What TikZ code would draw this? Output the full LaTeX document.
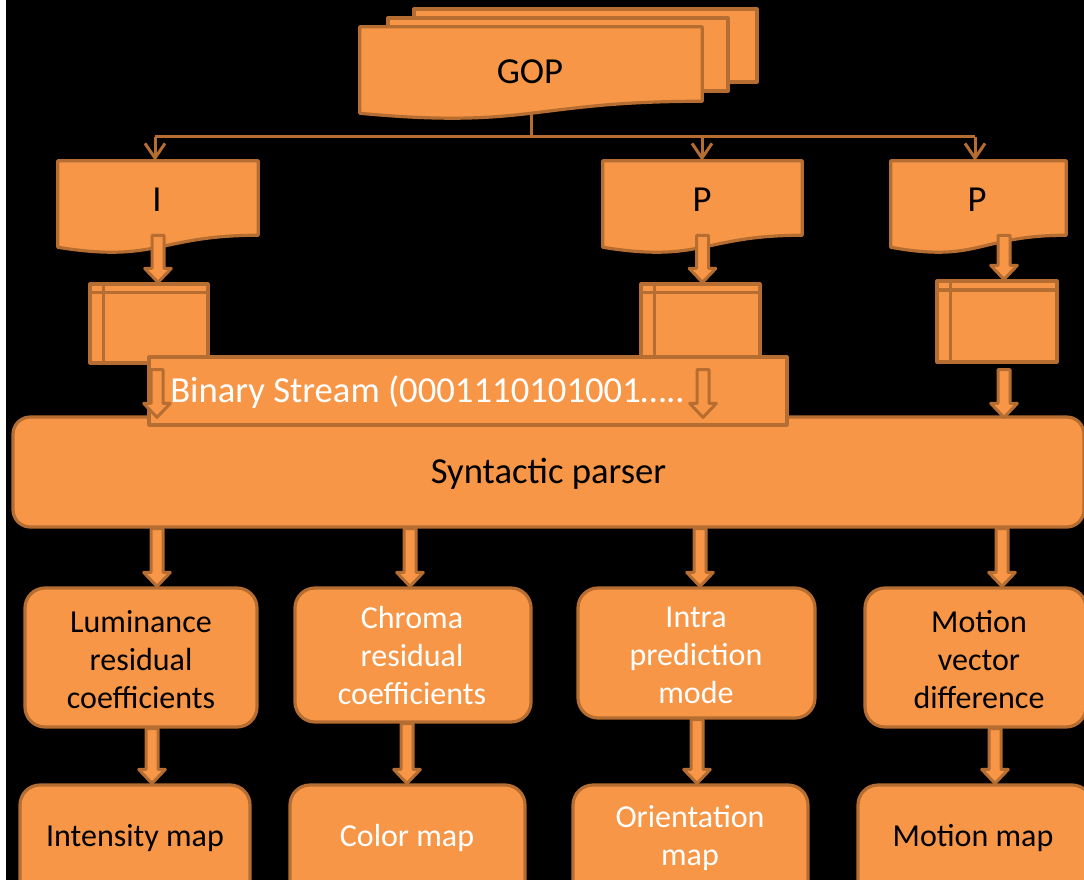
\documentclass[tikz,border=0pt]{standalone}
\usepackage{fontspec}
\setmainfont{Carlito}
\usetikzlibrary{calc,arrows.meta}
\definecolor{boxfill}{HTML}{F79646}
\definecolor{boxline}{HTML}{B66D31}

\tikzset{
  px/.style={x=0.75pt,y=-0.75pt},
  shapeline/.style={draw=boxline, line width=2.4pt, fill=boxfill, line join=round},
  sized/.style 2 args={minimum width=#1*0.75pt, minimum height=#2*0.75pt, inner sep=0pt},
  plainbox/.style={shapeline, rectangle},
  roundbox/.style={shapeline, rectangle, rounded corners=15pt},
  ghost/.style={rectangle, draw=none, inner sep=0pt},
  bigtext/.style={font=\fontsize{27.5}{33}\selectfont, text height=17.7pt, text depth=0pt, inner sep=0pt},
  smalltext/.style={font=\fontsize{24}{28.5}\selectfont, align=center, inner sep=0pt},
  oneline/.style={text height=15.5pt, text depth=0pt},
  thinlink/.style={draw=boxline, line width=2.25pt},
  thinarrow/.style={thinlink, -{Straight Barb[width=15pt,length=11pt]}},
  blockarrow/.style={shapeline, line width=2.25pt},
}

% frame outline: rectangle with a wavy lower edge, drawn around a ghost node
\newcommand\docpath[1]{%
  \draw[shapeline] (#1.north west) -- (#1.north east) -- (#1.south east)
    .. controls (#1.south) and ($(#1.south)+(0,28)$) .. ($(#1.south west)+(0,12)$) -- cycle;}

% inner guide lines of a storage box
\newcommand\storelines[1]{%
  \draw[draw=boxline, line width=2.4pt]
    ($(#1.north west)!0.125!(#1.north east)$) -- ($(#1.south west)!0.125!(#1.south east)$)
    ($(#1.north west)!0.125!(#1.south west)$) -- ($(#1.north east)!0.125!(#1.south east)$);}

% wide downward arrow from the x and y of #1 to the y of #2
\newcommand\blockdown[2]{%
  \path[blockarrow] let \p1=(#1), \p2=(#2) in
    (\x1-4.5pt,\y1) -- (\x1+4.5pt,\y1) -- (\x1+4.5pt,\y2+10.5pt) -- (\x1+10pt,\y2+10.5pt)
    -- (\x1,\y2) -- (\x1-10pt,\y2+10.5pt) -- (\x1-4.5pt,\y2+10.5pt) -- cycle;}

\begin{document}
\begin{tikzpicture}[px]
\useasboundingbox (0,0) rectangle (1084,880);
\clip (0,0) rectangle (1084,880);
\fill[white] (0,0) rectangle (1084,880);
\fill[black] (6,0) rectangle (1084,880);

% frame geometry
\node[ghost, sized={342}{74}] (gop) at (531,64) {};
\node[ghost, sized={200}{74}] (idoc) at (158,198) {};
\node[ghost, sized={199}{74}] (pdocA) at (702.5,198) {};
\node[ghost, sized={175}{74}] (pdocB) at (978.5,198) {};

% distribution lines from the GOP
\coordinate (bus) at (531,137);
\coordinate (busL) at (155,137);
\coordinate (busM) at (702,137);
\coordinate (busR) at (975,137);
\draw[thinlink] (gop.south) -- (bus);
\draw[thinlink] (busL) -- (busR);
\draw[thinarrow] (busL) -- (busL |- idoc.north);
\draw[thinarrow] (busM) -- (busM |- pdocA.north);
\draw[thinarrow] (busR) -- (busR |- pdocB.north);

% GOP stack
\node[plainbox, sized={343}{73}] (gopback) at (585.5,45.5) {};
\node[plainbox, sized={340}{73}] (gopmid) at (558,54.5) {};
\docpath{gop}
\node[bigtext] (goplabel) at (530,71.5) {GOP};

% frames
\docpath{idoc}
\docpath{pdocA}
\docpath{pdocB}
\node[bigtext] (ilabel) at (157,199.5) {I};
\node[bigtext] (plabelA) at (702,200) {P};
\node[bigtext] (plabelB) at (977,199.5) {P};

% storage boxes
\node[plainbox, sized={118}{79}] (ist) at (149,323.5) {};
\node[plainbox, sized={119}{79}] (pstA) at (700.5,323.5) {};
\node[plainbox, sized={120}{81}] (pstB) at (997,321.5) {};
\storelines{ist}
\storelines{pstA}
\storelines{pstB}

% parser and bit stream
\node[roundbox, rounded corners=13pt, sized={1071}{110}, bigtext] (parser) at (548.5,472) {Syntactic parser};
\node[plainbox, sized={638}{68}] (binary) at (468,391) {};
\node[bigtext, text=white, anchor=west] (bintext) at (170,391) {Binary Stream (0001110101001…..};

% syntax elements
\node[roundbox, sized={232}{139}] (lum) at (141,657.5) {};
\node[roundbox, sized={236}{134}] (chroma) at (413,655) {};
\node[roundbox, sized={237}{130}] (intra) at (696.5,653) {};
\node[roundbox, sized={221}{139}] (mvd) at (975.5,657.5) {};
\node[smalltext] (lumtext) at (141,659.5) {Luminance\\residual\\coefficients};
\node[smalltext, text=white] (chromatext) at (412,655.5) {Chroma\\residual\\coefficients};
\node[smalltext, text=white] (intratext) at (696,655) {Intra\\prediction\\mode};
\node[smalltext] (mvdtext) at (979,659.5) {Motion\\vector\\difference};

% feature maps
\node[roundbox, sized={230}{120}] (intensity) at (135,845) {};
\node[roundbox, sized={235}{120}] (colormap) at (407.5,845) {};
\node[roundbox, sized={235}{120}] (orient) at (690.5,845) {};
\node[roundbox, sized={234}{120}] (motionmap) at (975,845) {};
\node[smalltext, oneline] (intensitytext) at (135,836) {Intensity map};
\node[smalltext, oneline, text=white] (colortext) at (407,836) {Color map};
\node[smalltext, text=white] (orienttext) at (690,838.5) {Orientation\\map};
\node[smalltext, oneline] (motiontext) at (973,836) {Motion map};

% wide arrows
\blockdown{idoc.south}{ist.north}
\blockdown{pdocA.south}{pstA.north}
\blockdown{$(pdocB.south)+(25.5,0)$}{pstB.north}
\blockdown{$(ist.south)+(8,5)$}{$(parser.north)+(0,2)$}
\blockdown{$(pstA.south)+(2.5,5)$}{$(parser.north)+(0,2)$}
\blockdown{$(pstB.south)+(7,6)$}{$(parser.north)+(0,2)$}
\blockdown{$(lum.north |- parser.south)+(16,0)$}{lum.north}
\blockdown{$(chroma.north |- parser.south)+(-3,0)$}{chroma.north}
\blockdown{$(intra.north |- parser.south)+(3.5,0)$}{intra.north}
\blockdown{$(mvd.north |- parser.south)+(26.5,0)$}{mvd.north}
\blockdown{$(lum.south)+(11,0)$}{intensity.north}
\blockdown{$(chroma.south)+(-6,0)$}{colormap.north}
\blockdown{$(intra.south)+(0.5,0)$}{orient.north}
\blockdown{$(mvd.south)+(19.5,0)$}{motionmap.north}
\end{tikzpicture}
\end{document}
